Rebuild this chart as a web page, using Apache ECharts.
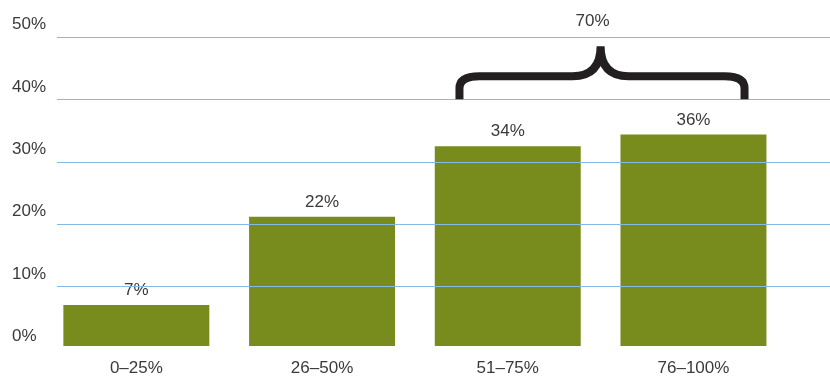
<!DOCTYPE html>
<html>
<head>
<meta charset="utf-8">
<script src="https://cdn.jsdelivr.net/npm/echarts@6/dist/echarts.min.js"></script>
<style>
  html, body { margin: 0; padding: 0; background: #ffffff; }
  #chart { width: 830px; height: 377px; }
</style>
</head>
<body>
<div id="chart"></div>
<script>
// Share of respondents per range
const categories = ['0–25%', '26–50%', '51–75%', '76–100%'];
const shares = [7, 22, 34, 36];
const yTickLabels = ['0%', '10%', '20%', '30%', '40%', '50%'];
// The two upper ranges grouped under the brace
const bracedIdx = [2, 3];

const TEXT = '#3a3a3a';
const FONT = '"Liberation Sans", Arial, sans-serif';
const BAR = '#788c1e';
const GRID = '#84bbe6';

const bracedTotal = bracedIdx.reduce((s, i) => s + shares[i], 0);

const chart = echarts.init(document.getElementById('chart'), null, { renderer: 'canvas' });

// Curly brace spanning the grouped bars, plus its total label
function renderBrace(params, api) {
  const a = api.coord([bracedIdx[0], 42]);
  const b = api.coord([bracedIdx[1], 42]);
  const band = api.size([1, 0])[0];
  const xL = a[0] - 0.26 * band;
  const xR = b[0] + 0.275 * band;
  const xM = (a[0] + b[0]) / 2;
  const yB = a[1];
  const yH = yB - 23;
  const yT = yB - 53;
  const r = 20;
  const d = [
    'M', xL, yB,
    'L', xL, yH + 12,
    'Q', xL, yH, xL + r, yH,
    'L', xM - 28, yH,
    'Q', xM, yH, xM, yT,
    'Q', xM, yH, xM + 28, yH,
    'L', xR - r, yH,
    'Q', xR, yH, xR, yH + 12,
    'L', xR, yB
  ].join(' ');
  return {
    type: 'group',
    children: [
      {
        type: 'path',
        shape: { pathData: d, x: xL, y: yT, width: xR - xL, height: yB - yT },
        style: { stroke: '#231f20', lineWidth: 8, fill: null, lineJoin: 'bevel', lineCap: 'butt' }
      },
      {
        type: 'text',
        style: {
          text: bracedTotal + '%',
          x: xM - 8, y: yT - 25,
          align: 'center', verticalAlign: 'middle',
          font: '17px ' + FONT, fill: TEXT
        }
      }
    ]
  };
}

chart.setOption({
  animation: false,
  backgroundColor: '#ffffff',
  grid: [
    { left: 43.5, right: 43.7, top: 37, bottom: 28 },
    { left: 57, right: 0, top: 37, bottom: 28 }
  ],
  xAxis: [
    {
      gridIndex: 0,
      type: 'category',
      data: categories,
      axisLine: { show: false },
      axisTick: { show: false },
      axisLabel: { color: TEXT, fontSize: 17, fontFamily: FONT, margin: 14 }
    },
    { gridIndex: 1, type: 'value', show: false, min: 0, max: 1 }
  ],
  yAxis: [
    { gridIndex: 0, type: 'value', min: 0, max: 52.6, show: false },
    {
      gridIndex: 1,
      type: 'value',
      min: 0,
      max: 50,
      interval: 10,
      z: 3,
      axisLine: { show: false },
      axisTick: { show: false },
      splitLine: {
        show: true,
        lineStyle: { color: ['rgba(0,0,0,0)', GRID, GRID, GRID, GRID, GRID], width: 1.2 }
      },
      axisLabel: {
        formatter: (v) => yTickLabels[Math.round(v / 10)],
        color: TEXT,
        fontSize: 17,
        fontFamily: FONT,
        align: 'left',
        margin: 45,
        verticalAlign: 'bottom',
        lineHeight: 25
      }
    }
  ],
  series: [
    {
      type: 'bar',
      xAxisIndex: 0,
      yAxisIndex: 0,
      data: shares,
      barCategoryGap: '21.4%',
      itemStyle: { color: BAR },
      label: {
        show: true,
        position: 'top',
        distance: 6,
        formatter: '{c}%',
        color: TEXT,
        fontSize: 17,
        fontFamily: FONT
      },
      z: 2
    },
    {
      type: 'custom',
      xAxisIndex: 0,
      yAxisIndex: 0,
      renderItem: renderBrace,
      data: [[bracedIdx[0], 42]],
      silent: true,
      z: 4
    }
  ]
});
</script>
</body>
</html>
